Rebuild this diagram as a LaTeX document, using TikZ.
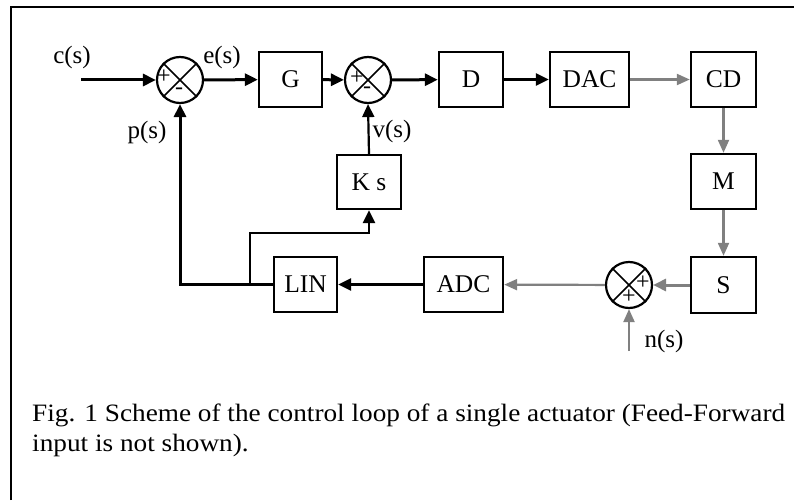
\documentclass[tikz,border=0pt]{standalone}
\usepackage{fontspec}
\setmainfont{Liberation Serif}
\usetikzlibrary{arrows.meta}
\definecolor{lgray}{RGB}{128,128,128}
\begin{document}
\begin{tikzpicture}[x=1pt,y=-1pt,
  blk/.style={draw, line width=2.4pt, inner sep=0pt, minimum width=#1, minimum height=55pt, font=\fontsize{25.5}{26}\selectfont},
  blk/.default=64pt,
  sumnode/.style={draw, circle, line width=2.2pt, minimum size=46pt, inner sep=0pt},
  lbl/.style={inner sep=0pt, font=\fontsize{25}{26}\selectfont},
  sgn/.style={inner sep=0pt, font=\fontsize{24}{24}\selectfont},
  captxt/.style={inner sep=0pt, anchor=base west, font=\fontsize{25}{30}\selectfont},
  blkarrow/.style={line width=3pt, -{Triangle[length=13pt,width=12pt]}},
  thinarrow/.style={line width=2.2pt, -{Triangle[length=13pt,width=12pt]}},
  grayarrow/.style={draw=lgray, line width=2.2pt, -{Triangle[length=13pt,width=11pt]}},
  grayheavy/.style={draw=lgray, line width=3pt, -{Triangle[length=13pt,width=12pt]}}
]
\useasboundingbox (0,0) rectangle (794,500);
% frame
\draw[line width=1.5pt] (11,500) -- (11,7) -- (794,7);

% blocks
\node[blk=63pt] (G) at (290.5,79.5) {G};
\node[blk=64pt] (D) at (471,79.5) {D};
\node[blk=79pt] (DAC) at (589.5,79.5) {DAC};
\node[blk=65pt] (CD) at (723.5,79.5) {CD};
\node[blk=65pt] (M) at (723.5,181.5) {M};
\node[blk=65pt, minimum height=56pt] (S) at (723.5,285) {S};
\node[blk=79pt] (ADC) at (463.5,284.5) {ADC};
\node[blk=63pt] (LIN) at (305.5,284.5) {LIN};
\node[blk=64pt, minimum height=54pt] (Ks) at (369,182) {K s};

% summing junctions
\node[sumnode] (s1) at (180,80) {};
\node[sumnode] (s2) at (368,80) {};
\node[sumnode] (s3) at (629,285) {};
\foreach \s in {s1,s2,s3}{
  \draw[line width=1.7pt] (\s.north west) -- (\s.south east);
  \draw[line width=1.7pt] (\s.north east) -- (\s.south west);
}
\node[sgn] (p1) at (164,77) {+};
\node[sgn] (m1) at (179,91) {-};
\node[sgn] (p2) at (357,78) {+};
\node[sgn] (m2) at (367,90) {-};
\node[sgn] (p3) at (643,283) {+};
\node[sgn] (p4) at (629,297) {+};

% labels
\node[lbl] (lc) at (72,57) {c(s)};
\node[lbl] (le) at (222,57) {e(s)};
\node[lbl] (lp) at (147,132) {p(s)};
\node[lbl] (lv) at (392,131) {v(s)};
\node[lbl] (ln) at (664,341) {n(s)};

% coordinates
\coordinate (cin) at (81,80);
\coordinate (nin) at (629,351);
\coordinate (fbc) at (180,284.5);
\coordinate (br) at (250,284.5);
\coordinate (brup) at (250,233);
\coordinate (ksin) at (369,233);

% forward path
\draw[blkarrow] (cin) -- (s1);
\draw[blkarrow] (s1) -- (G);
\draw[blkarrow] (G) -- (s2);
\draw[blkarrow] (s2) -- (D);
\draw[blkarrow] (D) -- (DAC);
\draw[grayarrow] (DAC) -- (CD);
\draw[grayarrow] (CD) -- (M);
\draw[grayarrow] (M) -- (S);
\draw[grayheavy] (S) -- (s3);
\draw[grayarrow] (s3) -- (ADC);
\draw[grayarrow] (nin) -- (s3);
\draw[blkarrow] (ADC) -- (LIN);

% feedback
\draw[blkarrow] (LIN.west) -- (fbc) -- (s1.south);
\draw[thinarrow, line width=2.6pt] (br) -- (brup) -- (ksin) -- (Ks.south);
\draw[thinarrow] (Ks.north) -- (s2.south);

% caption
\node[captxt] (c1) at (32,421.5) {\scalebox{1.09}[1]{Fig. 1 Scheme of the control loop of a single actuator (Feed-Forward}};
\node[captxt] (c2) at (32,451.5) {\scalebox{1.09}[1]{input is not shown).}};
\end{tikzpicture}
\end{document}
